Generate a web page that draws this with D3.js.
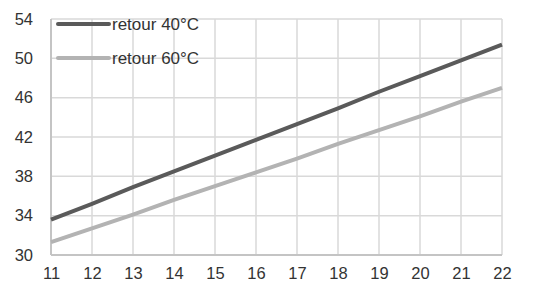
<!DOCTYPE html>
<html><head><meta charset="utf-8">
<script src="https://cdn.jsdelivr.net/npm/d3@7"></script>
<style>body{margin:0;background:#fff}svg{display:block}text{font-family:"Liberation Sans",Arial,sans-serif;fill:#333}</style>
</head><body><svg id="c" width="552" height="289"></svg>
<script>
const xValues = [11,12,13,14,15,16,17,18,19,20,21,22];
const retour40 = [33.6,35.2,36.9,38.5,40.1,41.7,43.3,44.9,46.6,48.2,49.8,51.4];
const retour60 = [31.3,32.7,34.1,35.6,37.0,38.4,39.8,41.3,42.7,44.1,45.6,47.0];
const yTicks = [30,34,38,42,46,50,54];
const seriesNames = ["retour 40°C","retour 60°C"];
const seriesColors = ["#5a5a5a","#b3b3b3"];

const svg = d3.select("#c");
const x = d3.scaleLinear().domain([11,22]).range([51,502]);
const y = d3.scaleLinear().domain([30,54]).range([255,19]);
const FS = 16.5;

const g = svg.append("g");
g.selectAll(".vg").data(xValues).join("line")
  .attr("x1",d=>x(d)).attr("x2",d=>x(d)).attr("y1",y(30)).attr("y2",y(54))
  .attr("stroke","#d9d9d9").attr("stroke-width",1.5);
g.selectAll(".hg").data(yTicks).join("line")
  .attr("x1",x(11)).attr("x2",x(22)).attr("y1",d=>y(d)).attr("y2",d=>y(d))
  .attr("stroke","#d9d9d9").attr("stroke-width",1.5);
g.append("line").attr("x1",x(11)).attr("x2",x(11)).attr("y1",y(30)).attr("y2",y(54)).attr("stroke","#c4c4c4").attr("stroke-width",2);
g.append("line").attr("x1",x(11)).attr("x2",x(22)).attr("y1",y(30)).attr("y2",y(30)).attr("stroke","#c4c4c4").attr("stroke-width",2);

const yAxis = d3.axisLeft(y).tickValues(yTicks).tickSize(0).tickPadding(18);
svg.append("g").attr("transform",`translate(${x(11)},0)`).call(yAxis)
  .call(s=>s.select(".domain").remove())
  .call(s=>s.selectAll("text").attr("font-size",FS).attr("font-family","Liberation Sans, Arial, sans-serif").attr("fill","#333"));
const xAxis = d3.axisBottom(x).tickValues(xValues).tickSize(0).tickPadding(12).tickFormat(d3.format("d"));
svg.append("g").attr("transform",`translate(0,${y(30)})`).call(xAxis)
  .call(s=>s.select(".domain").remove())
  .call(s=>s.selectAll("text").attr("font-size",FS).attr("font-family","Liberation Sans, Arial, sans-serif").attr("fill","#333"));

const line = d3.line().x((d,i)=>x(xValues[i])).y(d=>y(d));
[retour40,retour60].forEach((s,i)=>{
  svg.append("path").attr("d",line(s)).attr("fill","none").attr("stroke",seriesColors[i]).attr("stroke-width",4);
});

const leg = svg.append("g");
seriesNames.forEach((n,i)=>{
  const ly = 24 + i*34;
  leg.append("line").attr("x1",58).attr("x2",109).attr("y1",ly).attr("y2",ly)
    .attr("stroke",seriesColors[i]).attr("stroke-width",4).attr("stroke-linecap","round");
  leg.append("text").attr("x",112).attr("y",ly).attr("dy","0.35em").attr("font-size",FS+0.5).text(n);
});
</script></body></html>
